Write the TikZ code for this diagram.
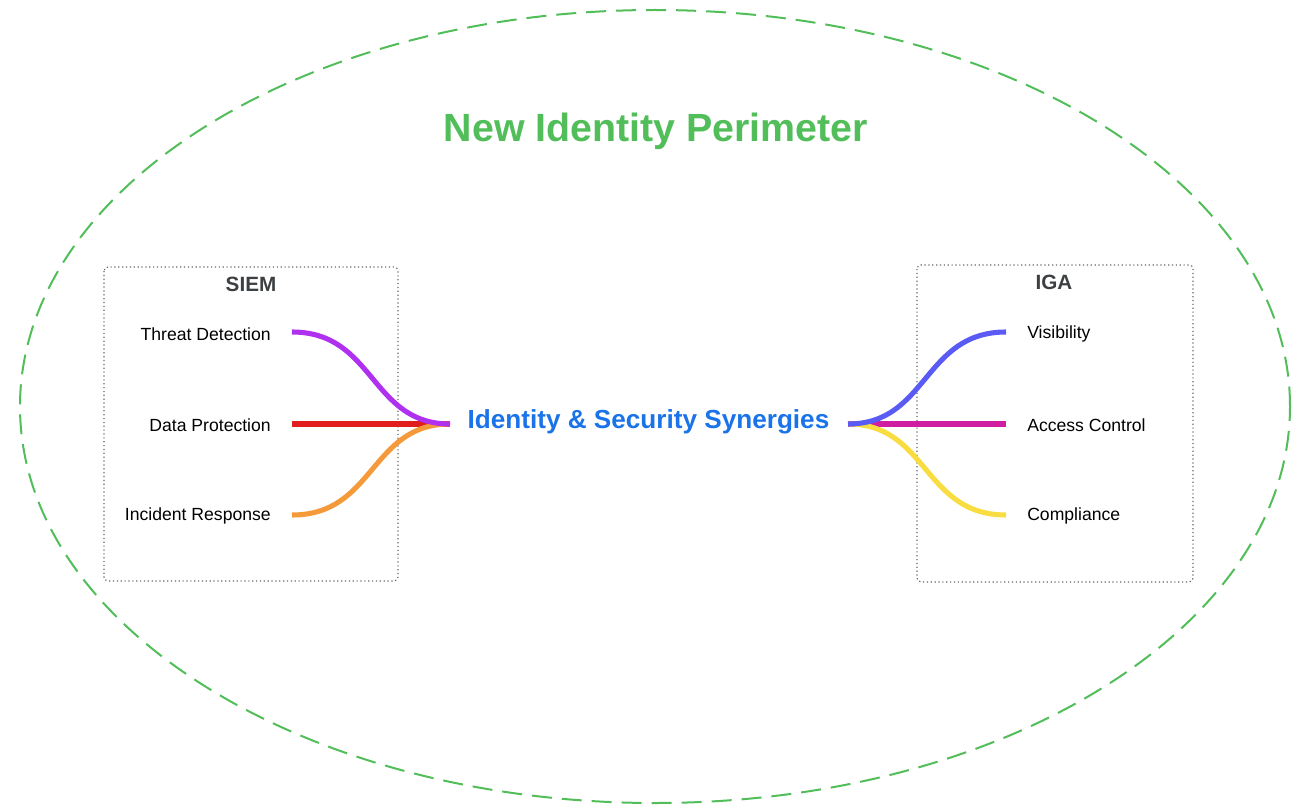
\documentclass[tikz,border=0pt]{standalone}
\usepackage{fontspec}
\setmainfont{Liberation Sans}
\usetikzlibrary{shapes.geometric}
\definecolor{pgreen}{RGB}{82,190,90}
\definecolor{pblue}{RGB}{26,115,232}
\definecolor{dgray}{RGB}{60,64,67}
\definecolor{cpurple}{RGB}{176,48,240}
\definecolor{cred}{RGB}{224,30,30}
\definecolor{corange}{RGB}{245,154,58}
\definecolor{cblue}{RGB}{90,90,245}
\definecolor{cmag}{RGB}{208,30,160}
\definecolor{cyellow}{RGB}{248,220,64}
\tikzset{
  perim/.style={draw=pgreen, line width=1.5pt, dash pattern=on 15pt off 7.5pt},
  groupbox/.style={draw=gray!80!black, line width=0.9pt, dotted, rounded corners=3pt},
  grouptitle/.style={font=\fontsize{15.5pt}{18pt}\selectfont\bfseries, text=dgray},
  item/.style={font=\fontsize{13.2pt}{15pt}\selectfont, text=black, inner sep=0pt},
  flow/.style={line width=3.8pt, line cap=butt},
}
\begin{document}
\begin{tikzpicture}[x=0.75pt,y=-0.75pt]
\useasboundingbox (0,0) rectangle (1310,806);
% perimeter
\node[perim, ellipse, minimum width=1270*0.75pt, minimum height=793*0.75pt, inner sep=0pt] (perimeter) at (655,406.5) {};
\node[font=\fontsize{29.5pt}{34pt}\selectfont\bfseries, text=pgreen] (title) at (656,131) {New Identity Perimeter};
% boxes
\draw[groupbox] (104,267) rectangle (398,581);
\node[grouptitle] (siem) at (251,284) {SIEM};
\draw[groupbox] (917,265) rectangle (1193,582);
\node[grouptitle] (iga) at (1054,282) {IGA};
% center
\node[font=\fontsize{19.6pt}{23pt}\selectfont\bfseries, text=pblue] (center) at (648.5,422) {Identity \& Security Synergies};
\coordinate (cl) at (450,424);
\coordinate (cr) at (848,424);
% left items
\node[item, anchor=east] (td) at (271,334) {Threat Detection};
\node[item, anchor=east] (dp) at (271,425) {Data Protection};
\node[item, anchor=east] (ir) at (271,516) {Incident Response};
\coordinate (tdp) at (292,332);
\coordinate (dpp) at (292,424);
\coordinate (irp) at (292,515);
% right items
\node[item, anchor=west] (vi) at (1027,334) {Visibility};
\node[item, anchor=west] (ac) at (1027,425) {Access Control};
\node[item, anchor=west] (co) at (1027,516) {Compliance};
\coordinate (vip) at (1006,332);
\coordinate (acp) at (1006,424);
\coordinate (cop) at (1006,515);
% connectors
\draw[flow, cred] (dpp) -- (cl);
\draw[flow, corange] (irp) .. controls (375,515) and (370,424) .. (cl);
\draw[flow, cpurple] (tdp) .. controls (375,332) and (370,424) .. (cl);
\draw[flow, cmag] (cr) -- (acp);
\draw[flow, cyellow] (cr) .. controls (928,424) and (923,515) .. (cop);
\draw[flow, cblue] (cr) .. controls (928,424) and (923,332) .. (vip);
\end{tikzpicture}
\end{document}
